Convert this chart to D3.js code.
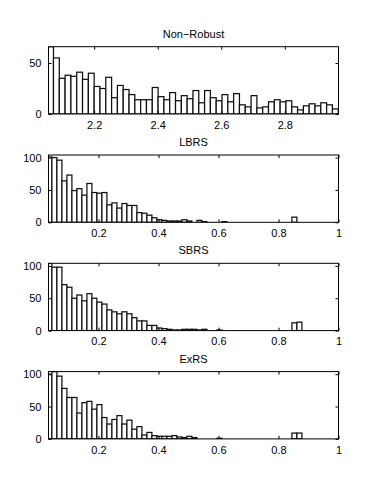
<!DOCTYPE html>
<html>
<head>
<meta charset="utf-8">
<script src="https://cdn.jsdelivr.net/npm/d3@7"></script>
<style>
  body { margin: 0; background: #fff; }
  text { font-family: "Liberation Sans", Arial, sans-serif; fill: #000; }
</style>
</head>
<body>
<script>
(function() {

  // panel titles, top to bottom
  let titles = ["Non\u2212Robust", "LBRS", "SBRS", "ExRS"];

  // histogram counts (one entry per bin)
  let nonRobustCounts = [66, 55, 35, 38, 37, 41, 34, 40, 27, 25, 36, 16, 28, 24, 19, 14, 14, 14, 26, 17,
    14, 21, 13, 18, 15, 23, 11, 23, 16, 13, 19, 12, 20, 9, 7, 18, 6, 7, 12, 14,
    12, 13, 7, 4, 8, 10, 8, 11, 9, 5];
  let lbrsCounts = [101, 100, 96, 64, 73, 49, 52, 42, 60, 46, 45, 46, 27, 30, 22, 29, 26, 26, 15, 14,
    11, 7, 4, 3, 2, 2, 2, 4, 2, 0, 3, 1, 0, 0, 0, 1, 0, 0, 0, 0,
    0, 0, 0, 0, 0, 0, 0, 0, 0, 8, 0, 0, 0, 0, 0, 0, 0, 0, 0];
  let sbrsCounts = [104, 98, 98, 71, 67, 50, 55, 46, 57, 50, 44, 41, 32, 29, 26, 29, 26, 20, 15, 15,
    8, 8, 4, 3, 2, 1, 1, 2, 2, 2, 1, 2, 0, 0, 1, 0, 0, 0, 0, 0,
    0, 0, 0, 0, 0, 0, 0, 0, 0, 12, 13, 0, 0, 0, 0, 0, 0, 0, 0];
  let exrsCounts = [100, 104, 97, 78, 64, 64, 40, 56, 58, 46, 53, 33, 23, 30, 36, 23, 29, 15, 19, 6,
    10, 5, 4, 4, 4, 5, 3, 2, 4, 2, 0, 0, 0, 0, 1, 0, 0, 0, 0, 0,
    0, 0, 0, 0, 0, 0, 0, 0, 0, 9, 9, 0, 0, 0, 0, 0, 0, 0, 0];

  // bin layout (left edge of first bin, bin width)
  let nonRobustBins = [2.0537, 0.01829];
  let rsBins = [0.028, 1 / 60];

  // axis limits and ticks
  let nonRobustXLim = [2.0563, 2.969];
  let rsXLim = [0.0333, 1];
  let nonRobustXTicks = [2.2, 2.4, 2.6, 2.8];
  let rsXTicks = [0.2, 0.4, 0.6, 0.8, 1];
  let nonRobustYLim = [0, 66];
  let rsYLim = [0, 104];
  let nonRobustYTicks = [0, 50];
  let rsYTicks = [0, 50, 100];

  let width = 374, height = 494;
  let left = 48.5, right = 338.5;
  let firstTop = 46.7, step = 108.3, plotH = 67.3;
  let tickLen = 3;

  let svg = d3.select("body")
    .append("svg")
    .attr("width", width)
    .attr("height", height);

  let panels = [
    { counts: nonRobustCounts, bins: nonRobustBins, xLim: nonRobustXLim, xTicks: nonRobustXTicks, yLim: nonRobustYLim, yTicks: nonRobustYTicks },
    { counts: lbrsCounts, bins: rsBins, xLim: rsXLim, xTicks: rsXTicks, yLim: rsYLim, yTicks: rsYTicks },
    { counts: sbrsCounts, bins: rsBins, xLim: rsXLim, xTicks: rsXTicks, yLim: rsYLim, yTicks: rsYTicks },
    { counts: exrsCounts, bins: rsBins, xLim: rsXLim, xTicks: rsXTicks, yLim: rsYLim, yTicks: rsYTicks }
  ];

  panels.forEach((p, i) => drawPanel(p, i));

  function drawPanel(p, i) {
    let top = firstTop + i * step;
    let bottom = top + plotH;

    let xScale = d3.scaleLinear().domain(p.xLim).range([left, right]);
    let yScale = d3.scaleLinear().domain(p.yLim).range([bottom, top]);

    let g = svg.append("g");

    g.append("clipPath")
      .attr("id", "clip" + i)
      .append("rect")
      .attr("x", left)
      .attr("y", top)
      .attr("width", right - left)
      .attr("height", plotH);

    // bars
    let bw = p.bins[1];
    g.append("g")
      .attr("clip-path", "url(#clip" + i + ")")
      .selectAll("rect")
      .data(p.counts)
      .enter()
      .append("rect")
      .attr("x", (d, k) => xScale(p.bins[0] + k * bw))
      .attr("width", xScale(p.bins[0] + bw) - xScale(p.bins[0]))
      .attr("y", (d) => yScale(d))
      .attr("height", (d) => yScale(0) - yScale(d))
      .attr("fill", "#fff")
      .attr("stroke", "#111")
      .attr("stroke-width", 1.25);

    // axes: bottom/left with labels, top/right mirrored ticks only
    let xAxis = d3.axisBottom(xScale).tickValues(p.xTicks).tickSizeInner(-tickLen).tickSizeOuter(0)
      .tickPadding(7).tickFormat(d3.format("~g"));
    let xAxisTop = d3.axisTop(xScale).tickValues(p.xTicks).tickSizeInner(-tickLen).tickSizeOuter(0)
      .tickFormat("");
    let yAxis = d3.axisLeft(yScale).tickValues(p.yTicks).tickSizeInner(-tickLen).tickSizeOuter(0)
      .tickPadding(7);
    let yAxisRight = d3.axisRight(yScale).tickValues(p.yTicks).tickSizeInner(-tickLen).tickSizeOuter(0)
      .tickFormat("");

    [
      [xAxis, "translate(0," + bottom + ")"],
      [xAxisTop, "translate(0," + top + ")"],
      [yAxis, "translate(" + left + ",0)"],
      [yAxisRight, "translate(" + right + ",0)"]
    ].forEach(([ax, tr]) => {
      let a = g.append("g").attr("transform", tr).call(ax);
      a.select(".domain").remove();
      a.selectAll("line").attr("stroke", "#000");
      a.selectAll("text")
        .style("font-family", "'Liberation Sans', Arial, sans-serif")
        .style("font-size", "11px")
        .attr("fill", "#000");
    });

    // box
    g.append("rect")
      .attr("x", left)
      .attr("y", top)
      .attr("width", right - left)
      .attr("height", plotH)
      .attr("fill", "none")
      .attr("stroke", "#000")
      .attr("stroke-width", 1);

    // title
    g.append("text")
      .attr("x", (left + right) / 2)
      .attr("y", top - 9)
      .attr("text-anchor", "middle")
      .style("font-size", "11px")
      .text(titles[i]);
  }

})();
</script>
</body>
</html>
